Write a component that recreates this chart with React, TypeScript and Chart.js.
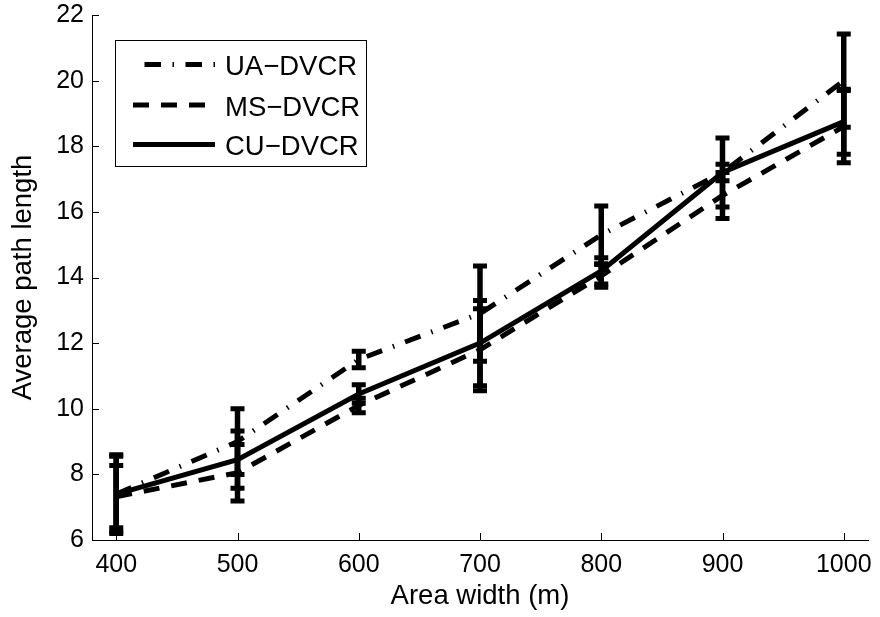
import React, { useEffect, useRef } from "react";
import { Chart, registerables } from "chart.js";

Chart.register(...registerables);

// ---- data ----
const areaWidths = [400, 500, 600, 700, 800, 900, 1000];
const seriesNames = ["UA\u2212DVCR", "MS\u2212DVCR", "CU\u2212DVCR"];
const uaMean = [7.4, 9.0, 11.5, 12.9, 15.3, 17.2, 20.0];
const uaErr = [1.15, 1.0, 0.25, 1.45, 0.88, 1.05, 1.42];
const msMean = [7.32, 8.05, 10.1, 11.8, 14.05, 16.5, 18.6];
const msErr = [0.95, 0.86, 0.22, 1.25, 0.35, 0.7, 1.1];
const cuMean = [7.4, 8.45, 10.45, 12.0, 14.2, 17.2, 18.75];
const cuErr = [1.2, 0.87, 0.28, 1.3, 0.4, 0.25, 0.99];
const xTicks = [400, 500, 600, 700, 800, 900, 1000];
const yTicks = [6, 8, 10, 12, 14, 16, 18, 20, 22];

const FONT = "'Liberation Sans', Arial, Helvetica, sans-serif";
const LINE_W = 5;

const dashStyles = [
  [16.5, 11.5, 1.5, 11.5],
  [16, 12],
  [],
];

const errorBarsPlugin = {
  id: "errorBars",
  afterDatasetsDraw(chart: any) {
    const { ctx, chartArea } = chart;
    const ys = chart.scales.y;
    const xs = chart.scales.x;
    ctx.save();
    ctx.beginPath();
    ctx.rect(chartArea.left, chartArea.top, chartArea.right - chartArea.left, chartArea.bottom - chartArea.top);
    ctx.clip();
    ctx.strokeStyle = "#000";
    ctx.setLineDash([]);
    chart.data.datasets.forEach((ds: any) => {
      ds.data.forEach((p: any, i: number) => {
        const e = ds.errors[i];
        const px = xs.getPixelForValue(p.x);
        const top = ys.getPixelForValue(p.y + e);
        const bot = ys.getPixelForValue(p.y - e);
        ctx.lineWidth = 5.5;
        ctx.lineCap = "butt";
        ctx.beginPath();
        ctx.moveTo(px, top);
        ctx.lineTo(px, bot);
        ctx.stroke();
        ctx.lineWidth = 5;
        const hw = 7;
        ctx.beginPath();
        ctx.moveTo(px - hw, top);
        ctx.lineTo(px + hw, top);
        ctx.moveTo(px - hw, bot);
        ctx.lineTo(px + hw, bot);
        ctx.stroke();
      });
    });
    ctx.restore();
  },
};

const axesTicksPlugin = {
  id: "inwardTicks",
  afterDraw(chart: any) {
    const { ctx, chartArea } = chart;
    const xs = chart.scales.x;
    const ys = chart.scales.y;
    ctx.save();
    ctx.strokeStyle = "#000";
    ctx.lineWidth = 1;
    ctx.setLineDash([]);
    ctx.beginPath();
    xs.ticks.forEach((t: any) => {
      const px = Math.round(xs.getPixelForValue(t.value)) + 0.5;
      ctx.moveTo(px, chartArea.bottom);
      ctx.lineTo(px, chartArea.bottom - 7);
    });
    ys.ticks.forEach((t: any) => {
      const py = Math.round(ys.getPixelForValue(t.value)) + 0.5;
      ctx.moveTo(chartArea.left, py);
      ctx.lineTo(chartArea.left + 7, py);
    });
    ctx.stroke();
    ctx.restore();
  },
};

const boxLegendPlugin = {
  id: "boxLegend",
  afterDraw(chart: any) {
    const { ctx } = chart;
    const left = 115.5;
    const top = 40.5;
    const w = 251;
    const h = 126;
    ctx.save();
    ctx.fillStyle = "#fff";
    ctx.fillRect(left, top, w, h);
    ctx.strokeStyle = "#000";
    ctx.lineWidth = 1;
    ctx.setLineDash([]);
    ctx.strokeRect(left, top, w, h);
    const baselines = [75, 115.5, 155];
    chart.data.datasets.forEach((ds: any, i: number) => {
      const yb = baselines[i];
      const ly = yb - 10.5;
      ctx.strokeStyle = "#000";
      ctx.lineWidth = LINE_W;
      ctx.lineCap = "butt";
      ctx.setLineDash(ds.borderDash || []);
      if (i === 0) ctx.lineDashOffset = 29.5;
      else ctx.lineDashOffset = 0;
      ctx.beginPath();
      ctx.moveTo(133, ly);
      ctx.lineTo(215, ly);
      ctx.stroke();
      ctx.setLineDash([]);
      ctx.fillStyle = "#000";
      ctx.font = `27.5px ${FONT}`;
      ctx.textBaseline = "alphabetic";
      ctx.textAlign = "left";
      ctx.fillText(ds.label, 225, yb);
    });
    ctx.restore();
  },
};

export default function App() {
  const canvasRef = useRef<HTMLCanvasElement | null>(null);

  useEffect(() => {
    if (!canvasRef.current) return;
    const means = [uaMean, msMean, cuMean];
    const errs = [uaErr, msErr, cuErr];
    const datasets = means.map((m, k) => ({
      label: seriesNames[k],
      data: areaWidths.map((x, i) => ({ x, y: m[i] })),
      errors: errs[k],
      borderColor: "#000",
      backgroundColor: "#000",
      borderWidth: LINE_W,
      borderDash: dashStyles[k],
      borderCapStyle: "butt",
      pointRadius: 0,
      tension: 0,
      fill: false,
    }));

    const chart = new Chart(canvasRef.current, {
      type: "line",
      data: { datasets } as any,
      options: {
        responsive: false,
        animation: false,
        devicePixelRatio: 1,
        layout: { padding: { left: 0, top: 15, right: 12, bottom: 0 } },
        plugins: { legend: { display: false }, tooltip: { enabled: false } },
        scales: {
          x: {
            type: "linear",
            min: 380,
            max: 1020,
            afterFit: (s: any) => {
              s.height = 77;
              s.paddingLeft = 0;
              s.paddingRight = 0;
            },
            afterBuildTicks: (s: any) => {
              s.ticks = xTicks.map((v) => ({ value: v }));
            },
            grid: { display: true, drawOnChartArea: false, drawTicks: false },
            border: { display: true, color: "#000", width: 1 },
            ticks: {
              color: "#000",
              font: { family: FONT, size: 25 },
              padding: 10,
              maxRotation: 0,
              autoSkip: false,
              callback: (v: any) => String(v),
            },
            title: {
              display: true,
              text: "Area width (m)",
              color: "#000",
              font: { family: FONT, size: 27.5 },
              padding: { top: 4, bottom: 4 },
            },
          },
          y: {
            type: "linear",
            min: 6,
            max: 22,
            afterFit: (s: any) => {
              s.width = 92;
              s.paddingTop = 0;
              s.paddingBottom = 0;
            },
            afterBuildTicks: (s: any) => {
              s.ticks = yTicks.map((v) => ({ value: v }));
            },
            grid: { display: true, drawOnChartArea: false, drawTicks: false },
            border: { display: true, color: "#000", width: 1 },
            ticks: {
              color: "#000",
              font: { family: FONT, size: 25 },
              padding: 8,
              autoSkip: false,
              callback: (v: any) => String(v),
            },
            title: {
              display: true,
              text: "Average path length",
              color: "#000",
              font: { family: FONT, size: 27.5 },
              padding: { top: 7, bottom: 4 },
            },
          },
        },
      } as any,
      plugins: [errorBarsPlugin, axesTicksPlugin, boxLegendPlugin],
    });
    return () => chart.destroy();
  }, []);

  return (
    <div style={{ position: "fixed", left: 0, top: 0, width: 880, height: 617, background: "#fff" }}>
      <canvas ref={canvasRef} width={880} height={617} style={{ display: "block" }} />
    </div>
  );
}
